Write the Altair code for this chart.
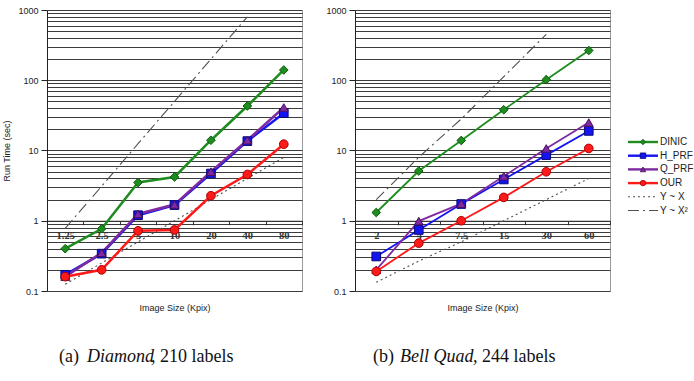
import altair as alt
import pandas as pd

# ---------------- data ----------------
algos = ["DINIC", "H_PRF", "Q_PRF", "OUR"]
refs = ["Y ~  X", "Y ~ X²"]

diamond_sizes = ["1.25", "2.5", "5", "10", "20", "40", "80"]
diamond_dinic = [0.40, 0.77, 3.5, 4.2, 14.0, 43.0, 140.0]
diamond_hprf = [0.17, 0.34, 1.20, 1.67, 4.7, 13.6, 34.0]
diamond_qprf = [0.16, 0.35, 1.25, 1.70, 5.0, 14.0, 41.0]
diamond_our = [0.16, 0.20, 0.72, 0.74, 2.27, 4.56, 12.3]
diamond_yx = [0.125, 0.25, 0.5, 1.0, 2.0, 4.0, 8.0]
diamond_yx2 = [0.78, 3.1, 12.5, 50.0, 200.0, 800.0, None]

bell_sizes = ["2", "4", "7.5", "15", "30", "60"]
bell_dinic = [1.31, 5.1, 13.9, 38.0, 102.0, 265.0]
bell_hprf = [0.31, 0.74, 1.73, 3.87, 8.6, 19.0]
bell_qprf = [0.20, 0.99, 1.75, 4.3, 10.7, 25.0]
bell_our = [0.19, 0.48, 1.00, 2.15, 4.98, 10.7]
bell_yx = [0.133, 0.267, 0.5, 1.0, 2.0, 4.0]
bell_yx2 = [2.0, 8.0, 28.1, 112.5, 450.0, None]

caption_a = ["(a)", "Diamond", ", 210 labels"]
caption_b = ["(b)", "Bell Quad", ", 244 labels"]

decades = [0.1, 1, 10, 100, 1000]
grid_values = sorted({round(d * k, 6) for d in decades[:-1] for k in range(1, 10)} | {1000})

# ---------------- style ----------------
line_colors = ["#1e8c1e", "#1414f0", "#7f2aa0", "#ff1a1a", "#505050", "#505050"]
marker_strokes = ["#0a5a0a", "#08087a", "#4a1060", "#a80000"]
shapes = ["diamond", "square", "triangle-up", "circle"]
all_names = algos + refs

W, H = 255, 281
sans = "Liberation Sans"
serif = "Liberation Serif"

color_scale = alt.Scale(domain=all_names, range=line_colors)
stroke_scale = alt.Scale(domain=algos, range=marker_strokes)
shape_scale = alt.Scale(domain=algos, range=shapes)
dash_scale = alt.Scale(domain=refs, range=[[2, 3], [11, 4, 2, 4]])

decade_test = "indexof([0.1, 1, 10, 100, 1000], datum.value) >= 0"


def make_panel(sizes, algo_vals, ref_vals, caption, show_title, lw, cap_x):
    rows = []
    for name, vals in zip(algos + refs, algo_vals + ref_vals):
        for s, v in zip(sizes, vals):
            if v is not None:
                rows.append({"series": name, "size": s, "v": v})
    df = pd.DataFrame(rows)

    x_enc = alt.X(
        "size:N",
        sort=sizes,
        bandPosition=0.5,
        scale=alt.Scale(type="band", paddingInner=0, paddingOuter=0),
        axis=alt.Axis(
            offset=-H / 4,
            tickBand="extent",
            grid=False,
            labelAngle=0,
            labelFont=serif,
            labelFontWeight="bold",
            labelFontSize=10.5,
            labelColor="#333333",
            labelPadding=6,
            tickSize=4,
            tickColor="#333333",
            domainColor="#333333",
            title="Image Size (Kpix)",
            titleFont=sans,
            titleFontSize=9,
            titleFontWeight="normal",
            titleColor="#222222",
            titleBaseline="middle",
            titleY=87,
        ),
    )
    y_enc = alt.Y(
        "v:Q",
        scale=alt.Scale(type="log", domain=[0.1, 1000], nice=False),
        axis=alt.Axis(
            values=grid_values,
            labelExpr=f"{decade_test} ? toString(datum.value) : ''",
            grid=True,
            gridColor="#3c3c3c",
            gridWidth=1.2,
            tickOpacity={"condition": {"test": decade_test, "value": 1}, "value": 0},
            tickSize=6,
            tickColor="#222222",
            domainColor="#222222",
            labelFont=sans,
            labelFontSize=9,
            labelColor="#222222",
            labelPadding=3,
            title="Run Time (sec)" if show_title else None,
            titleFont=sans,
            titleFontSize=9,
            titleFontWeight="normal",
            titleColor="#222222",
            titlePadding=6,
        ),
    )

    ref_df = df[df.series.isin(refs)]
    algo_df = df[df.series.isin(algos)]

    ref_lines = alt.Chart(ref_df).mark_line(strokeWidth=1.1).encode(
        x=x_enc, y=y_enc,
        color=alt.Color("series:N", scale=color_scale, legend=None),
        strokeDash=alt.StrokeDash("series:N", scale=dash_scale, legend=None),
        detail="series:N",
    )
    algo_lines = alt.Chart(algo_df).mark_line(strokeWidth=lw).encode(
        x=x_enc, y=y_enc,
        color=alt.Color("series:N", scale=color_scale, legend=None),
        order=alt.Order("series:N"),
    )
    pts = alt.Chart(algo_df).mark_point(filled=True, size=75, strokeWidth=1, opacity=1).encode(
        x=x_enc, y=y_enc,
        fill=alt.Fill("series:N", scale=color_scale, legend=None),
        stroke=alt.Stroke("series:N", scale=stroke_scale, legend=None),
        shape=alt.Shape("series:N", scale=shape_scale, legend=None),
    )
    layers = [ref_lines, algo_lines, pts]
    styles = ["normal", "italic", "normal"]
    for piece, style, xpos in zip(caption, styles, cap_x):
        layers.append(
            alt.Chart(pd.DataFrame({"t": [piece]})).mark_text(
                font=serif, fontSize=18, fontStyle=style, align="left",
                baseline="middle", color="#111111",
            ).encode(text="t:N", x=alt.value(xpos), y=alt.value(H + 66))
        )
    return alt.layer(*layers).properties(width=W, height=H)


left = make_panel(
    diamond_sizes,
    [diamond_dinic, diamond_hprf, diamond_qprf, diamond_our],
    [diamond_yx, diamond_yx2],
    caption_a, True, 2.5, [12, 40, 104],
)
right = make_panel(
    bell_sizes,
    [bell_dinic, bell_hprf, bell_qprf, bell_our],
    [bell_yx, bell_yx2],
    caption_b, False, 1.8, [18, 45, 118],
)

# ---------------- legend panel ----------------
leg_rows = []
for i, name in enumerate(all_names):
    for xx in (0, 30):
        leg_rows.append({"series": name, "row": i, "lx": xx})
leg_df = pd.DataFrame(leg_rows)
leg_pts = pd.DataFrame({"series": algos, "row": list(range(4)), "lx": [15] * 4})
leg_txt = pd.DataFrame({"series": all_names, "row": list(range(6)), "lx": [31] * 6})

lx_scale = alt.Scale(domain=[0, 60], nice=False)
row_scale = alt.Scale(domain=[-132 / 13.7, (H - 132) / 13.7], reverse=True, nice=False, zero=False)
lx = alt.X("lx:Q", scale=lx_scale, axis=None)
ly = alt.Y("row:Q", scale=row_scale, axis=None)

leg_lines_algo = alt.Chart(leg_df[leg_df.series.isin(algos)]).mark_line(strokeWidth=2.4).encode(
    x=lx, y=ly, color=alt.Color("series:N", scale=color_scale, legend=None), detail="series:N"
)
leg_lines_ref = alt.Chart(leg_df[leg_df.series.isin(refs)]).mark_line(strokeWidth=1.1).encode(
    x=lx, y=ly, color=alt.Color("series:N", scale=color_scale, legend=None),
    strokeDash=alt.StrokeDash("series:N", scale=dash_scale, legend=None), detail="series:N"
)
leg_points = alt.Chart(leg_pts).mark_point(filled=True, size=30, strokeWidth=0.8, opacity=1).encode(
    x=lx, y=ly,
    fill=alt.Fill("series:N", scale=color_scale, legend=None),
    stroke=alt.Stroke("series:N", scale=stroke_scale, legend=None),
    shape=alt.Shape("series:N", scale=shape_scale, legend=None),
)
leg_text = alt.Chart(leg_txt).mark_text(
    font=sans, fontSize=10, align="left", baseline="middle", color="#222222", dx=1
).encode(x=lx, y=ly, text="series:N")

legend = alt.layer(leg_lines_algo, leg_lines_ref, leg_points, leg_text).properties(
    width=60, height=H, view=alt.ViewBackground(stroke="transparent")
)

panels = alt.concat(left, right, columns=2, align="none", spacing=22).resolve_scale(
    x="independent", y="independent"
)

chart = (
    alt.concat(panels, legend, columns=2, align="none", spacing=11)
    .resolve_scale(x="independent", y="independent")
    .properties(padding={"left": 2, "top": 5, "right": 0, "bottom": 0}, background="white")
    .configure_view(stroke="#9a9a9a", strokeWidth=1)
)

chart.save("out.html", embed_options={"renderer": "svg", "actions": False})
